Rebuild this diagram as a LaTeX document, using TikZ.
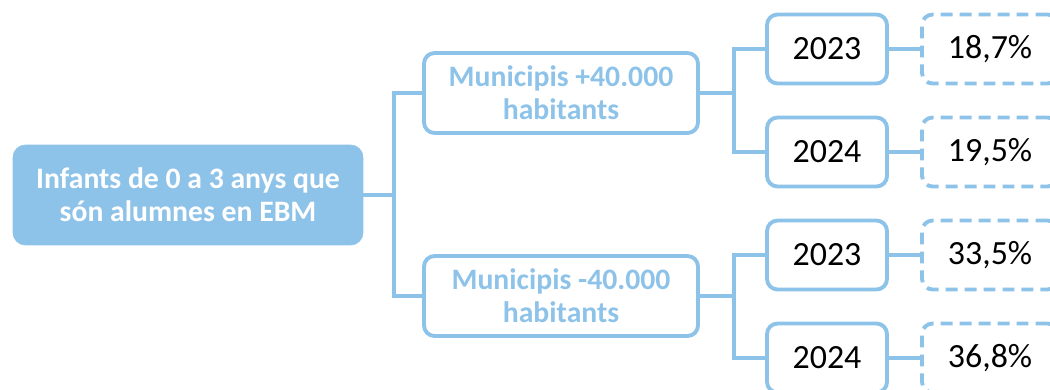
\documentclass[tikz,border=0pt]{standalone}
\usepackage{fontspec}
\setmainfont{Carlito}
\usepackage{tikz}
\usetikzlibrary{positioning}
\definecolor{ebmblue}{RGB}{142,195,233}

\begin{document}
\begin{tikzpicture}[x=0.02cm, y=-0.02cm,
  root/.style={fill=ebmblue, draw=ebmblue, rounded corners=7pt, minimum width=7cm, minimum height=2cm, align=center, text=white, font=\fontsize{16.9}{18.9}\selectfont\bfseries},
  grp/.style={draw=ebmblue, line width=2.2pt, fill=white, rounded corners=6pt, minimum width=5.48cm, minimum height=1.6cm, align=center, text=ebmblue, font=\fontsize{16.9}{18.9}\selectfont\bfseries},
  yr/.style={draw=ebmblue, line width=2.2pt, fill=white, rounded corners=6pt, minimum width=2.4cm, minimum height=1.38cm, font=\fontsize{19.3}{22}\selectfont},
  pct/.style={draw=ebmblue, line width=2.2pt, dash pattern=on 6.8pt off 4pt, fill=white, rounded corners=6pt, minimum width=2.72cm, minimum height=1.38cm, font=\fontsize{19.3}{22}\selectfont},
  link/.style={draw=ebmblue, line width=2.2pt}]
\clip (0,0) rectangle (1050,389);
% root
\node[root] (infants) at (188,195) {Infants de 0 a 3 anys que\\són alumnes en EBM};
% groups
\node[grp] (big) at (561,93) {Municipis +40.000\\habitants};
\node[grp] (small) at (561,296) {Municipis -40.000\\habitants};
% years
\node[yr] (big23) at (827,49) {2023};
\node[yr] (big24) at (827,152) {2024};
\node[yr] (small23) at (827,255) {2023};
\node[yr] (small24) at (827,358) {2024};
% shares
\node[pct] (p1) at (990,49) {18,7\%};
\node[pct] (p2) at (990,152) {19,5\%};
\node[pct] (p3) at (990,255) {33,5\%};
\node[pct] (p4) at (990,358) {36,8\%};
% joints
\coordinate (j0) at (394,195);
\coordinate (j1) at (734,93);
\coordinate (j2) at (734,296);
% links
\draw[link] (infants.east) -- (j0);
\draw[link] (big.west) -| (j0) |- (small.west);
\draw[link] (big.east) -- (j1);
\draw[link] (big23.west) -| (j1) |- (big24.west);
\draw[link] (small.east) -- (j2);
\draw[link] (small23.west) -| (j2) |- (small24.west);
\draw[link] (big23) -- (p1); \draw[link] (big24) -- (p2);
\draw[link] (small23) -- (p3); \draw[link] (small24) -- (p4);
\end{tikzpicture}
\end{document}
